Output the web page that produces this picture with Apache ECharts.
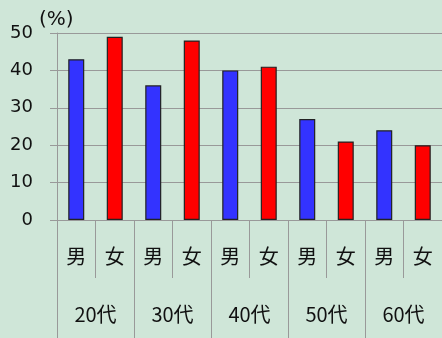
<!DOCTYPE html>
<html><head><meta charset="utf-8">
<script src="https://cdn.jsdelivr.net/npm/echarts@6/dist/echarts.min.js"></script>
<style>html,body{margin:0;padding:0;background:#cfe6d8;}#c{width:442px;height:338px;}</style>
</head><body><div id="c"></div>
<script>
const ageGroups = ['20代','30代','40代','50代','60代'];
const sexes = ['男','女'];
const maleValues = [43, 36, 40, 27, 24];
const femaleValues = [49, 48, 41, 21, 20];
const yTicks = [0, 10, 20, 30, 40, 50];

const cats = [], vals = [];
ageGroups.forEach((g, i) => {
  cats.push(sexes[0]); vals.push({value: maleValues[i], itemStyle: {color: '#3333ff'}});
  cats.push(sexes[1]); vals.push({value: femaleValues[i], itemStyle: {color: '#ff0000'}});
});

const chart = echarts.init(document.getElementById('c'));
const axisGray = '#999999';
chart.setOption({
  animation: false,
  backgroundColor: '#cfe6d8',
  grid: {left: 57, top: 33, right: -3, bottom: 118},
  xAxis: [{
    type: 'category', data: cats, position: 'bottom',
    axisLine: {show: true, lineStyle: {color: axisGray, width: 1}},
    axisTick: {show: true, length: 58, lineStyle: {color: axisGray}},
    axisLabel: {margin: 26, fontSize: 20, color: '#111', fontFamily: 'Noto Sans CJK JP'},
    splitLine: {show: false}
  }, {
    type: 'category', data: ageGroups, position: 'bottom', offset: 0,
    axisLine: {show: false},
    axisTick: {show: true, length: 120, lineStyle: {color: axisGray}},
    axisLabel: {margin: 84, fontSize: 20, color: '#111', fontFamily: 'Noto Sans CJK JP'},
    splitLine: {show: false}
  }],
  yAxis: {
    type: 'value', min: yTicks[0], max: yTicks[yTicks.length - 1], interval: 10,
    name: '(%)', nameLocation: 'end', nameGap: 3,
    nameTextStyle: {fontSize: 20, color: '#111', fontFamily: 'DejaVu Sans', align: 'left', padding: [0, 0, 0, -18]},
    axisLine: {show: true, lineStyle: {color: axisGray}},
    axisTick: {show: true, length: 7, lineStyle: {color: axisGray}},
    axisLabel: {fontSize: 18, color: '#111', fontFamily: 'DejaVu Sans', margin: 24},
    splitLine: {show: true, lineStyle: {color: axisGray, width: 1}}
  },
  series: [{
    type: 'bar', xAxisIndex: 0, data: vals, barWidth: 16,
    itemStyle: {borderColor: '#222', borderWidth: 1.2}
  }]
});
</script></body></html>
